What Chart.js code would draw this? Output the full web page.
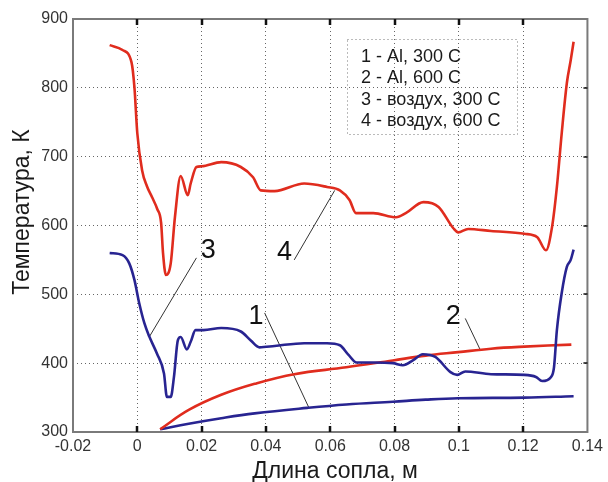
<!DOCTYPE html>
<html><head><meta charset="utf-8">
<script src="https://cdn.jsdelivr.net/npm/chart.js@4/dist/chart.umd.min.js"></script>
<style>html,body{margin:0;padding:0;background:#fff;}#wrap{width:608px;height:482px;}</style>
</head><body><div id="wrap"><canvas id="c" width="608" height="482"></canvas></div>
<script>
// ---- data ----
const xTickLabels = ['-0.02','0','0.02','0.04','0.06','0.08','0.1','0.12','0.14'];
const yTickLabels = ['300','400','500','600','700','800','900'];

// 4 - воздух, 600 C
const air600X = [-0.0086,-0.0046,-0.0018,-0.0009,0.0,0.0015,0.0030,0.0046,0.0062,0.0074,0.0080,0.0089,0.0104,0.0117,0.0135,0.0157,0.0166,0.0184,0.0200,0.0261,0.0322,0.0360,0.0384,0.0427,0.0519,0.0590,0.0630,0.0660,0.0680,0.0734,0.0805,0.0835,0.0890,0.0937,0.0983,0.0998,0.1029,0.1100,0.1204,0.1244,0.1271,0.1290,0.1305,0.1320,0.1336,0.1348,0.1357];
const air600Y = [862,855,837,801,734,680,657,641,624,604,560,528,545,612,672,644,661,685,686,692,685,670,651,650,661,656,651,637,618,618,612,618,634,627,596,590,595,592,588,583,564,598,656,734,807,840,867];

// 3 - воздух, 300 C
const air300X = [-0.0086,-0.0046,-0.0025,-0.0009,0.0006,0.0022,0.0037,0.0061,0.0083,0.0092,0.0104,0.0114,0.0126,0.0135,0.0154,0.0166,0.0181,0.0206,0.0261,0.0322,0.0353,0.0380,0.0427,0.0519,0.0590,0.0630,0.0657,0.0682,0.0734,0.0795,0.0826,0.0857,0.0888,0.0927,0.0974,0.0995,0.1020,0.1100,0.1204,0.1240,0.1259,0.1287,0.1296,0.1305,0.1320,0.1336,0.1348,0.1357];
const air300Y = [560,557,545,521,487,458,439,414,385,351,351,380,433,438,420,431,448,448,451,446,433,423,425,429,429,426,412,401,401,400,397,404,413,409,387,383,388,384,383,380,374,380,394,448,502,540,550,565];

// 2 - Al, 600 C
const al600X = [0.0071,0.0160,0.0261,0.0365,0.0488,0.0650,0.0795,0.0897,0.0998,0.1100,0.1204,0.1350];
const al600Y = [304,332,354,370,384,394,404,411,416,421,424,427];

// 1 - Al, 300 C
const al300X = [0.0071,0.0160,0.0261,0.0365,0.0528,0.0650,0.0795,0.0897,0.0998,0.1204,0.1357];
const al300Y = [304,312,320,327,335,340,344,347,349,350,352];

// leader lines and their labels
const leaderNames = ['1','2','3','4'];
const leaderX1 = [0.0396,0.1020,0.0184,0.0488];
const leaderY1 = [473,465,553,550];
const leaderX2 = [0.0534,0.1066,0.0037,0.0614];
const leaderY2 = [335,420,438,651];
const labelX = [0.0369,0.0983,0.0221,0.0458];
const labelY = [468,468,564,561];

const legendLines = ['1 - Al, 300 C','2 - Al, 600 C','3 - воздух, 300 C','4 - воздух, 600 C'];
const xTitle = 'Длина сопла, м';
const yTitle = 'Температура, К';

// ---- build ----
const pts = (xs, ys) => xs.map((x, i) => ({x, y: ys[i]}));
const RED = 'rgb(224,44,30)';
const BLUE = 'rgb(40,36,145)';
const FONT = '"Liberation Sans", Arial, sans-serif';

const curve = (label, xs, ys, color, smooth) => Object.assign({
  label, data: pts(xs, ys), borderColor: color, borderWidth: 2.6,
  pointRadius: 0, fill: false, order: 1
}, smooth ? {tension: 0.4} : {cubicInterpolationMode: 'monotone'});
const datasets = [
  curve('4 - воздух, 600 C', air600X, air600Y, RED, false),
  curve('3 - воздух, 300 C', air300X, air300Y, BLUE, false),
  curve('2 - Al, 600 C', al600X, al600Y, RED, true),
  curve('1 - Al, 300 C', al300X, al300Y, BLUE, true)
];
leaderNames.forEach((n, i) => {
  datasets.push({
    label: 'leader ' + n,
    data: [{x: leaderX1[i], y: leaderY1[i]}, {x: leaderX2[i], y: leaderY2[i]}],
    borderColor: '#333', borderWidth: 1, pointRadius: 0, tension: 0, fill: false, order: 2
  });
});

const decor = {
  id: 'decor',
  afterDatasetsDraw(chart) {
    const {ctx, chartArea: a, scales: {x, y}} = chart;
    ctx.save();
    // frame
    ctx.strokeStyle = '#7a7a7a';
    ctx.lineWidth = 2;
    ctx.strokeRect(a.left, a.top, a.right - a.left, a.bottom - a.top);
    // inward tick marks
    ctx.strokeStyle = '#111';
    ctx.lineWidth = 2.5;
    x.ticks.forEach(t => {
      const px = Math.round(x.getPixelForValue(t.value));
      if (px <= a.left + 1 || px >= a.right - 1) return;
      ctx.beginPath();
      ctx.moveTo(px, a.top); ctx.lineTo(px, a.top + 6);
      ctx.moveTo(px, a.bottom); ctx.lineTo(px, a.bottom - 6);
      ctx.stroke();
    });
    ctx.lineWidth = 1.5;
    y.ticks.forEach(t => {
      const py = Math.round(y.getPixelForValue(t.value));
      if (py <= a.top + 1 || py >= a.bottom - 1) return;
      ctx.beginPath();
      ctx.moveTo(a.right, py); ctx.lineTo(a.right - 4, py);
      ctx.stroke();
    });
    // curve labels
    ctx.fillStyle = '#111';
    ctx.font = '27px ' + FONT;
    ctx.textAlign = 'center';
    ctx.textBaseline = 'middle';
    leaderNames.forEach((n, i) => {
      ctx.fillText(n, x.getPixelForValue(labelX[i]), y.getPixelForValue(labelY[i]));
    });
    // legend box
    const bx = 347, by = 39, bw = 170, bh = 95;
    ctx.strokeStyle = '#777';
    ctx.lineWidth = 1;
    ctx.setLineDash([1, 3]);
    ctx.strokeRect(bx + 0.5, by + 0.5, bw, bh);
    ctx.setLineDash([]);
    ctx.fillStyle = '#1a1a1a';
    ctx.font = '18px ' + FONT;
    ctx.textAlign = 'left';
    ctx.textBaseline = 'alphabetic';
    legendLines.forEach((s, i) => ctx.fillText(s, 361, 62 + i * 21.3));
    // axis titles
    ctx.fillStyle = '#1a1a1a';
    ctx.font = '23px ' + FONT;
    ctx.textAlign = 'center';
    ctx.fillText(xTitle, 335, 478);
    ctx.save();
    ctx.translate(29, 212);
    ctx.rotate(-Math.PI / 2);
    ctx.textBaseline = 'alphabetic';
    ctx.fillText(yTitle, 0, 0);
    ctx.restore();
    ctx.restore();
  }
};

new Chart(document.getElementById('c'), {
  type: 'line',
  data: {datasets},
  options: {
    responsive: false,
    animation: false,
    devicePixelRatio: 1,
    layout: {padding: {top: 19, right: 14, left: 0, bottom: 0}},
    plugins: {legend: {display: false}, tooltip: {enabled: false}},
    scales: {
      x: {
        type: 'linear', min: -0.02, max: 0.14,
        afterFit(s) { s.height = 50; },
        afterBuildTicks(s) { s.ticks = xTickLabels.map(v => ({value: parseFloat(v)})); },
        ticks: {
          padding: 5, color: '#333', font: {family: FONT, size: 16},
          maxRotation: 0, autoSkip: false,
          callback: (v) => { const s = xTickLabels.find(l => Math.abs(parseFloat(l) - v) < 1e-9); return s !== undefined ? s : ''; }
        },
        grid: {color: '#666', lineWidth: 1, drawTicks: false},
        border: {display: false, dash: [1, 3]}
      },
      y: {
        type: 'linear', min: 300, max: 900,
        afterFit(s) { s.width = 73; },
        afterBuildTicks(s) { s.ticks = yTickLabels.map(v => ({value: parseFloat(v)})); },
        ticks: {
          padding: 5, color: '#333', font: {family: FONT, size: 16},
          autoSkip: false,
          callback: (v) => { const s = yTickLabels.find(l => parseFloat(l) === v); return s !== undefined ? s : ''; }
        },
        grid: {color: '#666', lineWidth: 1, drawTicks: false},
        border: {display: false, dash: [1, 3]}
      }
    }
  },
  plugins: [decor]
});
</script>
</body></html>
